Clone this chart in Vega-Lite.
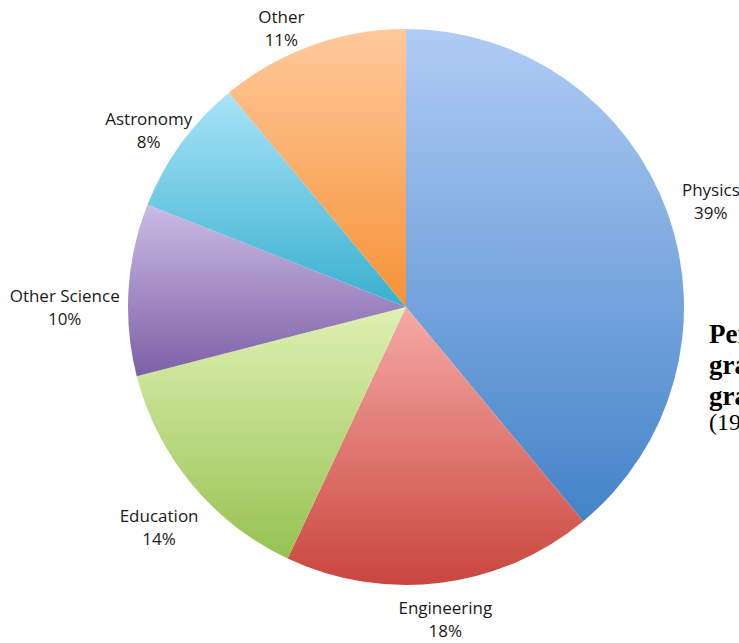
{
  "$schema": "https://vega.github.io/schema/vega-lite/v6.json",
  "width": 812,
  "height": 614,
  "autosize": "none",
  "padding": {"left": 0, "top": 0, "right": 0, "bottom": 40},
  "background": "white",
  "title": {
    "text": ["Percent of", "graduates by", "graduate field"],
    "subtitle": "(1998)",
    "orient": "top",
    "anchor": "start",
    "frame": "group",
    "dx": 709,
    "dy": 440,
    "baseline": "top",
    "font": "Liberation Serif",
    "fontSize": 27,
    "fontWeight": "bold",
    "color": "black",
    "lineHeight": 31,
    "subtitleFont": "Liberation Serif",
    "subtitleFontSize": 24,
    "subtitleFontWeight": "normal",
    "subtitleColor": "black",
    "subtitlePadding": 0
  },
  "data": {
    "values": [
      {"category": "Physics", "share": 39, "order": 1},
      {"category": "Engineering", "share": 18, "order": 2},
      {"category": "Education", "share": 14, "order": 3},
      {"category": "Other Science", "share": 10, "order": 4},
      {"category": "Astronomy", "share": 8, "order": 5},
      {"category": "Other", "share": 11, "order": 6}
    ]
  },
  "transform": [
    {"stack": "share", "groupby": [], "sort": [{"field": "order", "order": "ascending"}], "as": ["start", "end"]},
    {"calculate": "(datum.start + datum.end) / 2", "as": "mid"},
    {"calculate": "datum.category + '\\n' + datum.share + '%'", "as": "label"}
  ],
  "layer": [
    {
      "transform": [{"filter": "datum.category === 'Physics'"}],
      "mark": {"type": "arc", "outerRadius": 278, "fill": {"gradient": "linear", "x1": 0, "y1": 0, "x2": 0, "y2": 1, "stops": [{"offset": 0, "color": "#B0CCF5"}, {"offset": 1, "color": "#4383C8"}]}},
      "encoding": {"theta": {"field": "start", "type": "quantitative", "scale": {"domain": [0, 100]}}, "theta2": {"field": "end"}}
    },
    {
      "transform": [{"filter": "datum.category === 'Engineering'"}],
      "mark": {"type": "arc", "outerRadius": 278, "fill": {"gradient": "linear", "x1": 0, "y1": 0, "x2": 0, "y2": 1, "stops": [{"offset": 0, "color": "#F6AAA6"}, {"offset": 1, "color": "#C9463D"}]}},
      "encoding": {"theta": {"field": "start", "type": "quantitative", "scale": {"domain": [0, 100]}}, "theta2": {"field": "end"}}
    },
    {
      "transform": [{"filter": "datum.category === 'Education'"}],
      "mark": {"type": "arc", "outerRadius": 278, "fill": {"gradient": "linear", "x1": 0, "y1": 0, "x2": 0, "y2": 1, "stops": [{"offset": 0, "color": "#DFF1B3"}, {"offset": 1, "color": "#96C251"}]}},
      "encoding": {"theta": {"field": "start", "type": "quantitative", "scale": {"domain": [0, 100]}}, "theta2": {"field": "end"}}
    },
    {
      "transform": [{"filter": "datum.category === 'Other Science'"}],
      "mark": {"type": "arc", "outerRadius": 278, "fill": {"gradient": "linear", "x1": 0, "y1": 0, "x2": 0, "y2": 1, "stops": [{"offset": 0, "color": "#CBBBE4"}, {"offset": 1, "color": "#7D60A6"}]}},
      "encoding": {"theta": {"field": "start", "type": "quantitative", "scale": {"domain": [0, 100]}}, "theta2": {"field": "end"}}
    },
    {
      "transform": [{"filter": "datum.category === 'Astronomy'"}],
      "mark": {"type": "arc", "outerRadius": 278, "fill": {"gradient": "linear", "x1": 0, "y1": 0, "x2": 0, "y2": 1, "stops": [{"offset": 0, "color": "#A9E4F8"}, {"offset": 1, "color": "#38B0CF"}]}},
      "encoding": {"theta": {"field": "start", "type": "quantitative", "scale": {"domain": [0, 100]}}, "theta2": {"field": "end"}}
    },
    {
      "transform": [{"filter": "datum.category === 'Other'"}],
      "mark": {"type": "arc", "outerRadius": 278, "fill": {"gradient": "linear", "x1": 0, "y1": 0, "x2": 0, "y2": 1, "stops": [{"offset": 0, "color": "#FFC99C"}, {"offset": 1, "color": "#F59236"}]}},
      "encoding": {"theta": {"field": "start", "type": "quantitative", "scale": {"domain": [0, 100]}}, "theta2": {"field": "end"}}
    },
    {
      "transform": [{"filter": "datum.category === 'Physics'"}],
      "mark": {"type": "text", "radius": 324, "dy": -6, "font": "Open Sans", "fontSize": 17, "lineBreak": "\n", "lineHeight": 23, "align": "center", "baseline": "middle", "color": "#1a1a1a"},
      "encoding": {"theta": {"field": "mid", "type": "quantitative", "scale": {"domain": [0, 100]}}, "text": {"field": "label", "type": "nominal"}}
    },
    {
      "transform": [{"filter": "datum.category === 'Engineering'"}],
      "mark": {"type": "text", "radius": 314, "dy": -9.5, "font": "Open Sans", "fontSize": 17, "lineBreak": "\n", "lineHeight": 23, "align": "center", "baseline": "middle", "color": "#1a1a1a"},
      "encoding": {"theta": {"field": "mid", "type": "quantitative", "scale": {"domain": [0, 100]}}, "text": {"field": "label", "type": "nominal"}}
    },
    {
      "transform": [{"filter": "datum.category === 'Education'"}],
      "mark": {"type": "text", "radius": 336, "dx": 12, "dy": -4, "font": "Open Sans", "fontSize": 17, "lineBreak": "\n", "lineHeight": 23, "align": "center", "baseline": "middle", "color": "#1a1a1a"},
      "encoding": {"theta": {"field": "mid", "type": "quantitative", "scale": {"domain": [0, 100]}}, "text": {"field": "label", "type": "nominal"}}
    },
    {
      "transform": [{"filter": "datum.category === 'Other Science'"}],
      "mark": {"type": "text", "radius": 342, "dy": 11.5, "font": "Open Sans", "fontSize": 17, "lineBreak": "\n", "lineHeight": 23, "align": "center", "baseline": "middle", "color": "#1a1a1a"},
      "encoding": {"theta": {"field": "mid", "type": "quantitative", "scale": {"domain": [0, 100]}}, "text": {"field": "label", "type": "nominal"}}
    },
    {
      "transform": [{"filter": "datum.category === 'Astronomy'"}],
      "mark": {"type": "text", "radius": 318, "font": "Open Sans", "fontSize": 17, "lineBreak": "\n", "lineHeight": 23, "align": "center", "baseline": "middle", "color": "#1a1a1a"},
      "encoding": {"theta": {"field": "mid", "type": "quantitative", "scale": {"domain": [0, 100]}}, "text": {"field": "label", "type": "nominal"}}
    },
    {
      "transform": [{"filter": "datum.category === 'Other'"}],
      "mark": {"type": "text", "radius": 300, "dx": -23, "dy": -7, "font": "Open Sans", "fontSize": 17, "lineBreak": "\n", "lineHeight": 23, "align": "center", "baseline": "middle", "color": "#1a1a1a"},
      "encoding": {"theta": {"field": "mid", "type": "quantitative", "scale": {"domain": [0, 100]}}, "text": {"field": "label", "type": "nominal"}}
    }
  ]
}
